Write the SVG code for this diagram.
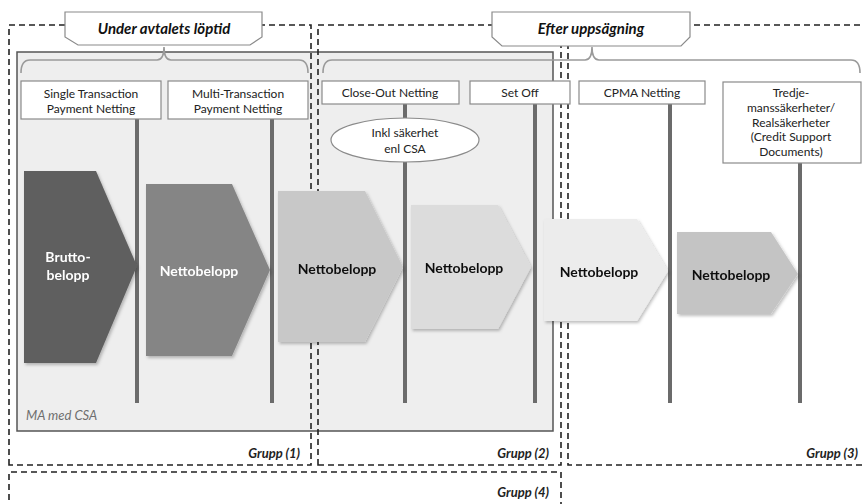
<svg xmlns="http://www.w3.org/2000/svg" width="863" height="504" viewBox="0 0 863 504">
  <style>
    text { font-family: Lato, "Open Sans", "Liberation Sans", sans-serif; }
    .grp { fill: none; stroke: #222; stroke-width: 1.6; stroke-dasharray: 6 4; }
    .brace { fill: none; stroke: #9a9a9a; stroke-width: 1.6; }
    .box { fill: #fff; stroke: #8a8a8a; stroke-width: 1.2; }
    .bar { stroke: #6b6b6b; stroke-width: 4; }
    .lbl { font-size: 12px; fill: #222; text-anchor: middle; }
    .head { font-size: 15px; font-weight: bold; font-style: italic; fill: #111; text-anchor: middle; }
    .gname { font-size: 13px; font-weight: bold; font-style: italic; fill: #222; text-anchor: end; }
    .amt { font-size: 14px; font-weight: bold; text-anchor: middle; }
  </style>
  <defs>
    <filter id="shadow" x="-10%" y="-10%" width="130%" height="130%">
      <feDropShadow dx="1.5" dy="2" stdDeviation="1.5" flood-color="#000" flood-opacity="0.25"/>
    </filter>
  </defs>

  <!-- MA med CSA area -->
  <g id="ma-csa">
    <rect x="17" y="52" width="536" height="379" fill="#eeeeee" stroke="#555" stroke-width="1.5"/>
    <text x="26" y="420" font-size="13" font-style="italic" fill="#6e6e6e">MA med CSA</text>
  </g>

  <!-- group frames -->
  <g id="groups">
    <path class="grp" d="M9,465 V25 H311 V465 Z"/>
    <path class="grp" d="M318,465 V25 H561 V465 Z"/>
    <path class="grp" d="M870,25 H568 V465 H870"/>
    <path class="grp" d="M9,510 V472 H561 V510"/>
    <text class="gname" x="300" y="458">Grupp (1)</text>
    <text class="gname" x="549" y="458">Grupp (2)</text>
    <text class="gname" x="858" y="458">Grupp (3)</text>
    <text class="gname" x="549" y="497">Grupp (4)</text>
  </g>

  <!-- phase headings with braces -->
  <g id="phase-under">
    <path class="brace" d="M21,73 Q21,60 30,60 H157 Q164,60 164,47 Q164,60 171,60 H299 Q308,60 308,73"/>
    <path class="box" d="M65,12 H262 V37 L250,45 H78 L65,37 Z"/>
    <text class="head" x="164" y="34">Under avtalets löptid</text>
  </g>
  <g id="phase-efter">
    <path class="brace" d="M323,73 Q323,60 332,60 H585 Q592,60 592,47 Q592,60 599,60 H851 Q860,60 860,73"/>
    <path class="box" d="M492,12 H690 V37 L681,46 H502 L492,37 Z"/>
    <text class="head" x="591" y="34">Efter uppsägning</text>
  </g>

  <!-- timeline bars -->
  <g id="connectors">
    <line class="bar" x1="137" y1="119" x2="137" y2="403"/>
    <line class="bar" x1="272" y1="119" x2="272" y2="403"/>
    <line class="bar" x1="405" y1="104" x2="405" y2="403"/>
    <line class="bar" x1="535" y1="104" x2="535" y2="403"/>
    <line class="bar" x1="670" y1="104" x2="670" y2="403"/>
    <line class="bar" x1="800" y1="163" x2="800" y2="403"/>
  </g>

  <!-- netting type boxes -->
  <g id="single">
    <rect class="box" x="21" y="81" width="140" height="38"/>
    <text class="lbl" x="91" y="98">Single Transaction</text>
    <text class="lbl" x="91" y="113">Payment Netting</text>
  </g>
  <g id="multi">
    <rect class="box" x="168" y="81" width="140" height="38"/>
    <text class="lbl" x="238" y="98">Multi-Transaction</text>
    <text class="lbl" x="238" y="113">Payment Netting</text>
  </g>
  <g id="closeout">
    <rect class="box" x="322" y="81" width="137" height="23"/>
    <text class="lbl" x="390" y="97">Close-Out Netting</text>
  </g>
  <g id="setoff">
    <rect class="box" x="470" y="81" width="100" height="23"/>
    <text class="lbl" x="520" y="97">Set Off</text>
  </g>
  <g id="cpma">
    <rect class="box" x="579" y="81" width="126" height="23"/>
    <text class="lbl" x="642" y="97">CPMA Netting</text>
  </g>
  <g id="tredje">
    <rect class="box" x="723" y="82" width="138" height="81"/>
    <text class="lbl" x="791" y="97">Tredje-</text>
    <text class="lbl" x="791" y="112">manssäkerheter/</text>
    <text class="lbl" x="791" y="127">Realsäkerheter</text>
    <text class="lbl" x="791" y="141">(Credit Support</text>
    <text class="lbl" x="791" y="156">Documents)</text>
  </g>
  <g id="csa-note">
    <ellipse cx="405" cy="140" rx="74" ry="22" fill="#fff" stroke="#8a8a8a" stroke-width="1.2"/>
    <text class="lbl" x="405" y="137">Inkl säkerhet</text>
    <text class="lbl" x="405" y="153">enl CSA</text>
  </g>

  <!-- amount arrows -->
  <g id="brutto" filter="url(#shadow)">
    <path d="M24,171 H96 L137,266 L96,363 H24 Z" fill="#5f5f5f"/>
    <text class="amt" x="68" y="262" fill="#fff">Brutto-</text>
    <text class="amt" x="68" y="280" fill="#fff">belopp</text>
  </g>
  <g id="netto1" filter="url(#shadow)">
    <path d="M146,184 H232 L270,270 L232,356 H146 Z" fill="#858585"/>
    <text class="amt" x="199" y="276" fill="#fff">Nettobelopp</text>
  </g>
  <g id="netto2" filter="url(#shadow)">
    <path d="M278,191 H365 L403,267 L365,342 H278 Z" fill="#c8c8c8"/>
    <text class="amt" x="337" y="274" fill="#111">Nettobelopp</text>
  </g>
  <g id="netto3" filter="url(#shadow)">
    <path d="M411,205 H498 L531,267 L498,329 H411 Z" fill="#dcdcdc"/>
    <text class="amt" x="464" y="273" fill="#111">Nettobelopp</text>
  </g>
  <g id="netto4" filter="url(#shadow)">
    <path d="M544,219 H637 L668,271 L637,321 H544 Z" fill="#ececec"/>
    <text class="amt" x="599" y="277" fill="#111">Nettobelopp</text>
  </g>
  <g id="netto5" filter="url(#shadow)">
    <path d="M677,232 H771 L798,274 L771,314 H677 Z" fill="#c4c4c4"/>
    <text class="amt" x="731" y="280" fill="#111">Nettobelopp</text>
  </g>
</svg>
